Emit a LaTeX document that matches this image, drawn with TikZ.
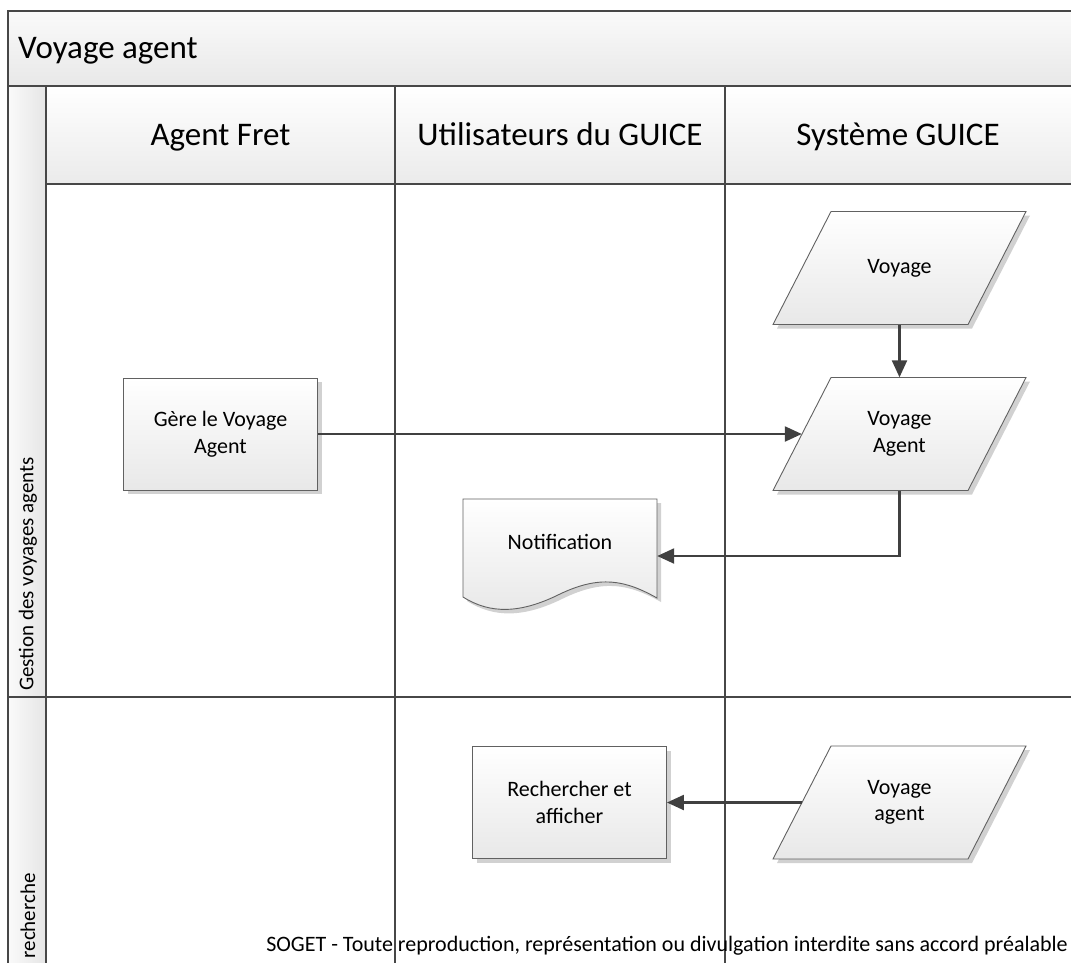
\documentclass[tikz,border=0pt]{standalone}
\usepackage{fontspec}
\setmainfont{Carlito}
\usetikzlibrary{arrows.meta}

% rectangle process box with offset shadow: name, centre x, centre y, text
\newcommand\procbox[4]{%
  \fill[shadowfill] (#2-97+4,#3-56+4) rectangle (#2+97+4,#3+56+4);
  \node[shapetxt, outline, bodyfill, minimum width=194pt, minimum height=112pt,
        inner sep=0pt] (#1) at (#2,#3) {#4};
}
% data parallelogram with offset shadow: name, centre x, centre y, text
\newcommand\databox[4]{%
  \fill[shadowfill] (#2-126.5+4,#3+56.5+4) -- (#2+68.5+4,#3+56.5+4)
     -- (#2+126.5+4,#3-56.5+4) -- (#2-68.5+4,#3-56.5+4) -- cycle;
  \path[outline, bodyfill] (#2-126.5,#3+56.5) -- (#2+68.5,#3+56.5)
     -- (#2+126.5,#3-56.5) -- (#2-68.5,#3-56.5) -- cycle;
  \node[shapetxt, minimum width=195pt, minimum height=113pt, inner sep=0pt]
     (#1) at (#2,#3) {#4};
}

\begin{document}
\begin{tikzpicture}[x=1pt,y=-1pt,
  frame/.style={draw=black!72, line width=1.8pt},
  headtxt/.style={font=\fontsize{33}{39}\selectfont, inner sep=0pt, anchor=base},
  shapetxt/.style={font=\fontsize{22}{26.5}\selectfont, align=center},
  flow/.style={draw=black!75, line width=2.3pt,
               -{Triangle[length=17pt,width=15pt]}},
  outline/.style={draw=black!62, line width=0.9pt},
  shadowfill/.style={fill=black!18},
  bodyfill/.style={top color=white, bottom color=black!9},
]
\useasboundingbox (0,0) rectangle (1071,962);
\clip (0,0) rectangle (1071,962);

% pool title bar, column headers and lane label strip
\path[top color=black!2, bottom color=black!9] (8,11) rectangle (1090,86);
\path[top color=white, bottom color=black!8] (46,86) rectangle (1090,184);
\path[left color=black!2, right color=black!10] (8,86) rectangle (46,990);

% pool frame, lane and column separators
\draw[frame] (1090,11) -- (8,11) -- (8,990);
\draw[frame] (8,86) -- (1090,86);
\draw[frame] (46,86) -- (46,990);
\draw[frame] (46,184) -- (1090,184);
\draw[frame] (395,86) -- (395,990);
\draw[frame] (725,86) -- (725,990);
\draw[frame] (8,697) -- (1090,697);

% titles
\node[headtxt, anchor=base west] (title) at (18,58) {Voyage agent};
\node[headtxt] (colA) at (220.5,145) {Agent Fret};
\node[headtxt] (colB) at (560,145) {Utilisateurs du GUICE};
\node[headtxt] (colC) at (898,145) {Système GUICE};
\node[shapetxt, font=\fontsize{21}{25}\selectfont, rotate=90] (laneA) at (28,574)
  {Gestion des voyages agents};
\node[shapetxt, font=\fontsize{21}{25}\selectfont, rotate=90, anchor=east, inner sep=0pt]
  (laneB) at (28,873) {recherche};

% process steps and data
\procbox{gere}{220.5}{434}{Gère le Voyage\\Agent}
\procbox{rech}{569.5}{802.5}{Rechercher et\\afficher}
\databox{voy}{899.5}{268}{Voyage}
\databox{voyA}{899.5}{434}{Voyage\\Agent}
\databox{voyB}{899.5}{802.5}{Voyage\\agent}

% notification document with wavy lower edge
\fill[shadowfill, shift={(4,4)}] (463,499) -- (657,499) -- (657,598)
  .. controls (625,580) and (600,575) .. (560,594)
  .. controls (520,614) and (490,614) .. (463,597) -- cycle;
\path[outline, bodyfill] (463,499) -- (657,499) -- (657,598)
  .. controls (625,580) and (600,575) .. (560,594)
  .. controls (520,614) and (490,614) .. (463,597) -- cycle;
\node[shapetxt, minimum width=194pt, inner sep=0pt] (notif) at (560,542) {Notification};

% flows
\draw[flow] (voy) -- (voyA);
\draw[flow] (gere) -- (voyA);
\draw[flow] (voyA.south) |- ([yshift=-14pt]notif.east);
\draw[flow] (voyB) -- (rech);

% footer notice
\node[font=\fontsize{22}{26}\selectfont, anchor=east, inner sep=0pt] (footer) at (1068,946)
  {SOGET - Toute reproduction, représentation ou divulgation interdite sans accord préalable};
\end{tikzpicture}
\end{document}
